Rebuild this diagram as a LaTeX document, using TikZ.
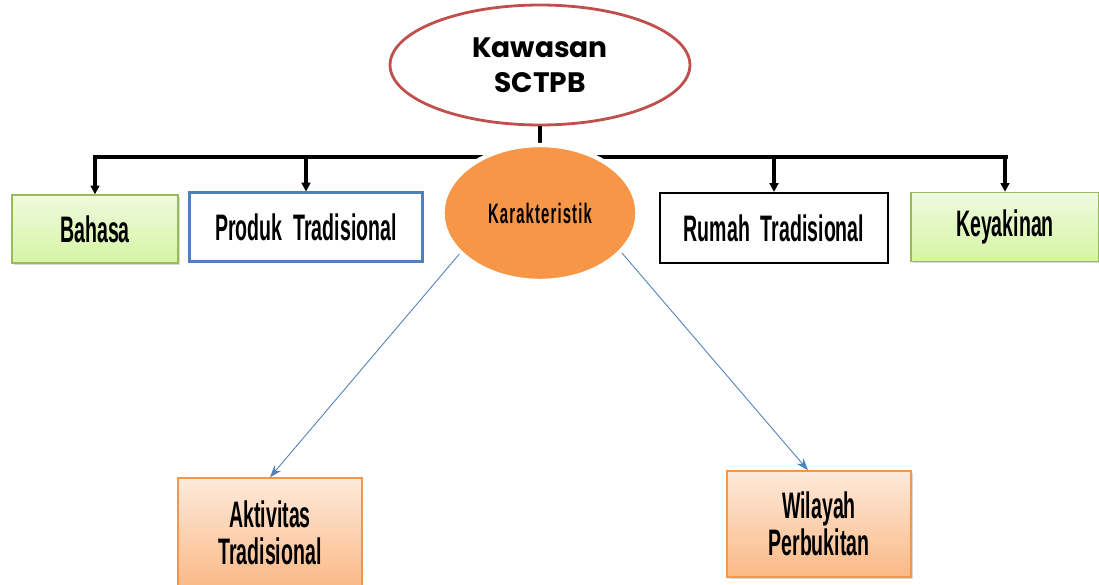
\documentclass[tikz,border=0pt]{standalone}
\usepackage{fontspec}
\newfontfamily\narrowfont[FakeStretch=0.53]{Liberation Sans}
\newfontfamily\narrowspaced[FakeStretch=0.53, LetterSpace=4]{Liberation Sans}
\newfontfamily\roundfont{Poppins}
\usetikzlibrary{arrows.meta, shapes.geometric, shadows}

\definecolor{kawasanred}{HTML}{C0504D}
\definecolor{produkblue}{HTML}{4F81BD}
\definecolor{greenline}{HTML}{9BBB59}
\definecolor{greentop}{HTML}{EFFADF}
\definecolor{greenbottom}{HTML}{D5F5A3}
\definecolor{orangeline}{HTML}{F79646}
\definecolor{orangetop}{HTML}{FDEADB}
\definecolor{orangebottom}{HTML}{FBB986}

\begin{document}
\begin{tikzpicture}[x=0.02cm, y=-0.02cm,
	labelbox/.style={rectangle, line width=1.2pt, align=center, font=\narrowfont\bfseries\fontsize{21}{21}\selectfont},
	greenbox/.style={labelbox, draw=greenline, line width=0.8pt, top color=greentop, bottom color=greenbottom, drop shadow={shadow xshift=1pt, shadow yshift=-1pt, opacity=0.3}},
	orangebox/.style={labelbox, draw=orangeline, line width=0.8pt, top color=orangetop, bottom color=orangebottom, minimum width=3.68cm},
	busline/.style={line width=2pt, black},
	busarrow/.style={busline, -{Triangle[length=5pt, width=5pt]}},
	thinarrow/.style={produkblue, line width=0.5pt, -{Stealth[length=7pt, width=5pt]}}]

	% fix the page to the size of the reference
	\useasboundingbox (0,0) rectangle (1099,585);

	% the top ellipse
	\node[ellipse, draw=kawasanred, line width=1.6pt, fill=white, minimum width=6cm, minimum height=2.4cm, align=center, font=\roundfont\bfseries\fontsize{16}{20}\selectfont] (kawasan) at (540,65) {Kawasan\\SCTPB};

	% the boxes on the line below it
	\node[greenbox, minimum width=3.32cm, minimum height=1.36cm] (bahasa) at (95,229) {Bahasa};
	\node[labelbox, draw=produkblue, fill=white, minimum width=4.66cm, minimum height=1.38cm] (produk) at (306,227) {Produk~~Tradisional};
	\node[labelbox, draw=black, fill=white, minimum width=4.56cm, minimum height=1.4cm] (rumah) at (774,228) {Rumah~~Tradisional};
	\node[greenbox, minimum width=3.76cm, minimum height=1.38cm] (keyakinan) at (1005,227) {Keyakinan};

	% the line that feeds them
	\coordinate (busL) at (93,157);
	\coordinate (busR) at (1008,157);
	\draw[busline] (kawasan.south) -- (kawasan.south |- busL);
	\draw[busline] (busL) -- (busR);
	\foreach \n in {bahasa, produk, rumah, keyakinan}
		\draw[busarrow] (\n.north |- busL) -- (\n.north);

	% the orange ellipse sits on top of the line
	\node[ellipse, draw=white, line width=2.5pt, fill=orangeline, minimum width=3.9cm, minimum height=2.72cm, font=\narrowspaced\bfseries\fontsize{16}{18}\selectfont] (karakter) at (540,213) {Karakteristik};

	% the two boxes at the bottom
	\node[orangebox, minimum height=2.2cm] (aktivitas) at (270,533) {Aktivitas\\Tradisional};
	\node[orangebox, minimum height=2.12cm, drop shadow={shadow xshift=1pt, shadow yshift=-1pt, opacity=0.3}] (wilayah) at (819,524) {Wilayah\\Perbukitan};

	\draw[thinarrow] (karakter.207) -- (aktivitas.north);
	\draw[thinarrow] (karakter.334) -- ([xshift=-0.22cm]wilayah.north);

\end{tikzpicture}
\end{document}
